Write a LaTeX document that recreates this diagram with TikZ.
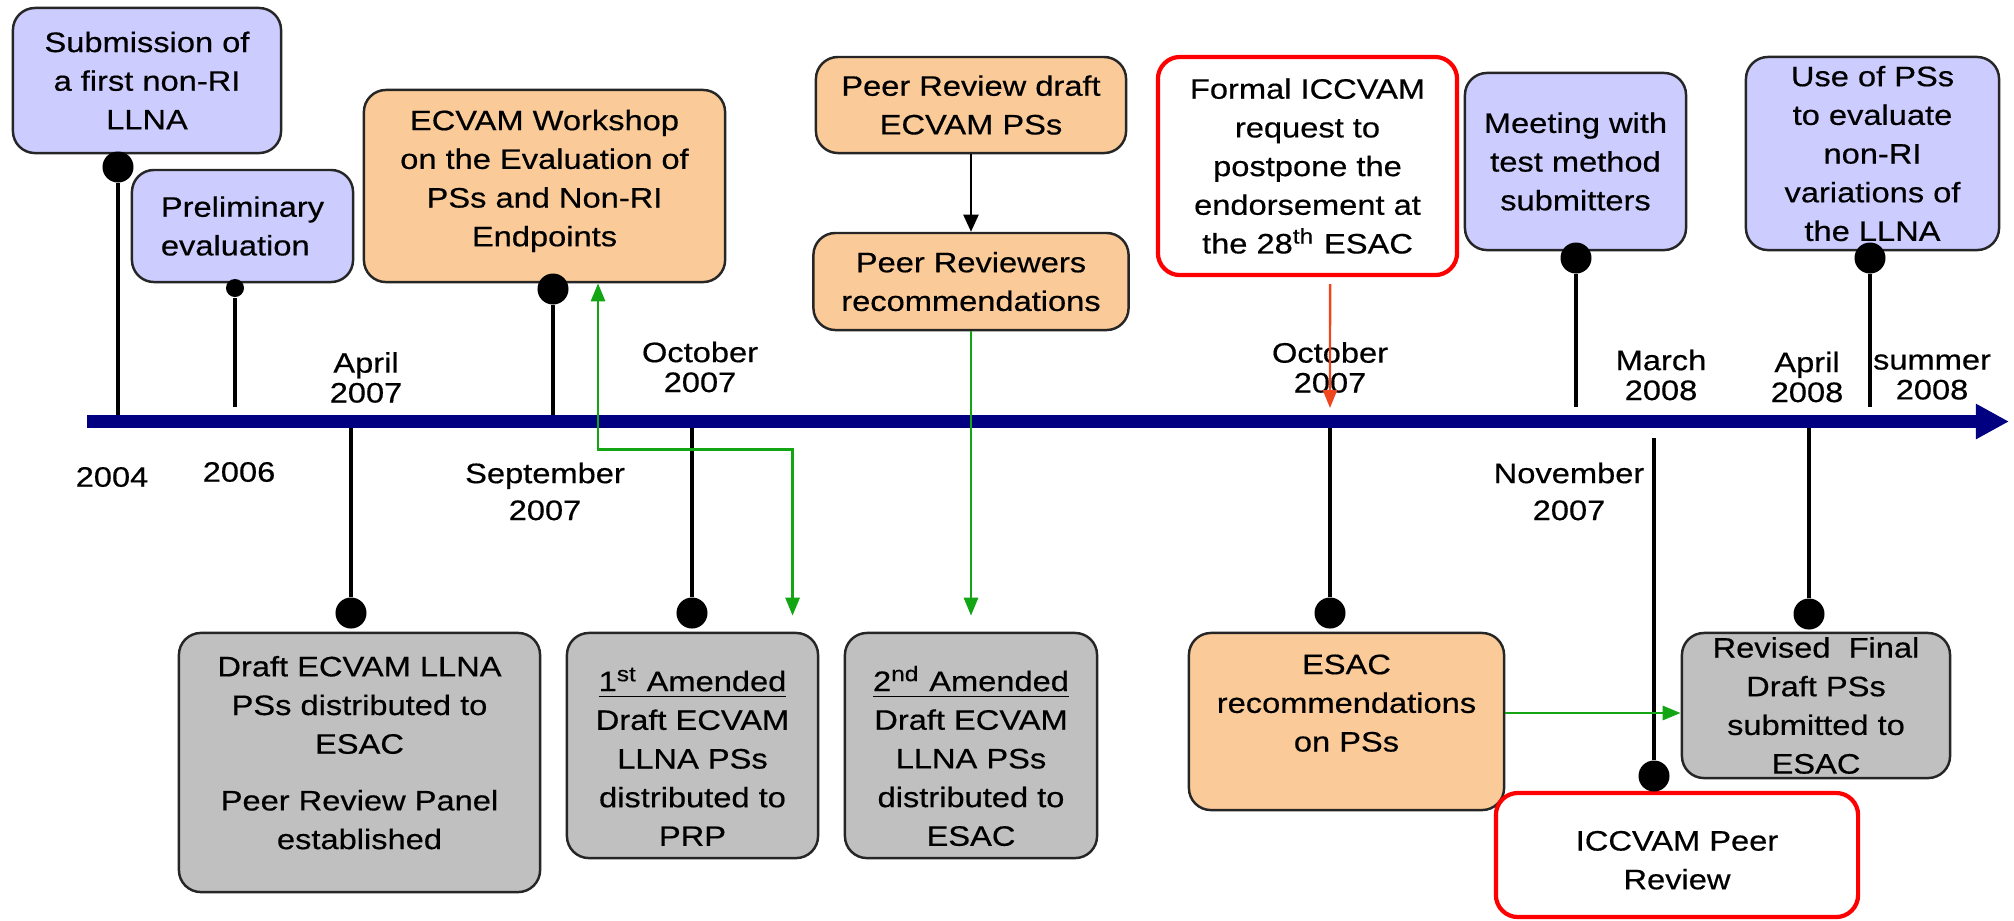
\documentclass[tikz,border=0pt]{standalone}
\usepackage{fontspec}
\setmainfont{Liberation Sans}[FakeStretch=1.16, FakeBold=0.5]
\usepackage{tikz}
\usetikzlibrary{arrows.meta}

\definecolor{lav}{RGB}{204,204,255}
\definecolor{peach}{RGB}{250,203,153}
\definecolor{boxgray}{RGB}{192,192,192}
\definecolor{navy}{RGB}{0,0,128}
\definecolor{flowgreen}{RGB}{20,165,20}
\definecolor{alarmred}{RGB}{255,0,0}
\definecolor{alarmarrow}{RGB}{240,70,30}

\begin{document}
\begin{tikzpicture}[x=0.01cm, y=-0.01cm, font=\fontsize{8}{11}\selectfont,
    >={Triangle[length=0.18cm, width=0.14cm]},
    box/.style={draw=black!85, line width=0.7pt, rounded corners=0.22cm, align=center, inner sep=0pt},
    lavbox/.style={box, fill=lav},
    peachbox/.style={box, fill=peach},
    graybox/.style={box, fill=boxgray},
    redbox/.style={box, draw=alarmred, line width=1.2pt, fill=white},
    dot/.style={circle, fill=black, inner sep=0pt, minimum size=0.31cm},
    stem/.style={line width=1pt},
    flow/.style={draw=flowgreen, line width=0.8pt},
    datetop/.style={align=center, inner sep=0pt, font=\fontsize{8}{8.5}\selectfont},
    datebot/.style={align=center, inner sep=0pt, font=\fontsize{8}{10.5}\selectfont}]
    \useasboundingbox (0,0) rectangle (2014,920);

    % events above the time line
    \node[lavbox, minimum width=2.68cm, minimum height=1.45cm] (sub) at (147,80.5) {Submission of\\a first non-RI\\LLNA};
    \node[lavbox, minimum width=2.21cm, minimum height=1.12cm, align=left] (pre) at (242.5,226) {Preliminary\\evaluation};
    \node[peachbox, minimum width=3.61cm, minimum height=1.92cm] (ws) at (544.5,186) {ECVAM Workshop\\on the Evaluation of\\PSs and Non-RI\\Endpoints\rule[-0.16cm]{0pt}{0pt}};
    \node[peachbox, minimum width=3.10cm, minimum height=0.96cm] (prd) at (971,105) {Peer Review draft\\ECVAM PSs};
    \node[peachbox, minimum width=3.15cm, minimum height=0.97cm] (prr) at (971,281.5) {Peer Reviewers\\recommendations};
    \node[redbox, minimum width=2.99cm, minimum height=2.18cm] (frm) at (1307.5,166) {Formal ICCVAM\\request to\\postpone the\\endorsement at\\the 28\textsuperscript{th} ESAC};
    \node[lavbox, minimum width=2.21cm, minimum height=1.77cm] (mtg) at (1575.5,161.5) {Meeting with\\test method\\submitters};
    \node[lavbox, minimum width=2.53cm, minimum height=1.93cm] (use) at (1872.5,153.5) {Use of PSs\\to evaluate\\non-RI\\variations of\\the LLNA};

    % events below the time line
    \node[graybox, minimum width=3.61cm, minimum height=2.59cm] (dr1) at (359.5,762.5) {Draft ECVAM LLNA\\PSs distributed to\\ESAC\\[0.18cm]Peer Review Panel\\established\rule[-0.2cm]{0pt}{0pt}};
    \node[graybox, minimum width=2.51cm, minimum height=2.25cm] (am1) at (692.5,745.5) {\rule{0pt}{0.46cm}\underline{1\textsuperscript{st} Amended}\\Draft ECVAM\\LLNA PSs\\distributed to\\PRP};
    \node[graybox, minimum width=2.52cm, minimum height=2.25cm] (am2) at (971,745.5) {\rule{0pt}{0.46cm}\underline{2\textsuperscript{nd} Amended}\\Draft ECVAM\\LLNA PSs\\distributed to\\ESAC};
    \node[peachbox, minimum width=3.15cm, minimum height=1.77cm] (esr) at (1346.5,721.5) {ESAC\\recommendations\\on PSs\rule[-0.37cm]{0pt}{0pt}};
    \node[graybox, minimum width=2.68cm, minimum height=1.45cm] (rev) at (1816,705.5) {Revised~ Final\\Draft PSs\\submitted to\\ESAC};
    \node[redbox, minimum width=3.62cm, minimum height=1.24cm] (icc) at (1677,855) {\rule{0pt}{0.3cm}ICCVAM Peer\\Review};

    % pins
    \node[dot] (sd) at (118,167) {};
    \node[dot, minimum size=0.18cm] (pd) at (235,288) {};
    \node[dot] (wd) at (553,289) {};
    \node[dot] (md) at (1576,258) {};
    \node[dot] (ud) at (1870,258) {};
    \node[dot] (d1d) at (351,613) {};
    \node[dot] (a1d) at (692,613) {};
    \node[dot] (esd) at (1330,613) {};
    \node[dot] (rvd) at (1809,614) {};
    \node[dot] (icd) at (1654,776) {};

    \coordinate (ax0) at (87,421.5);
    \coordinate (ax1) at (2009,421.5);

    \draw[stem] (sd) -- (sd |- ax0);
    \draw[stem] (pd) -- ([yshift=0.145cm]pd |- ax0);
    \draw[stem] (wd) -- (wd |- ax0);
    \draw[stem] (md) -- ([yshift=0.145cm]md |- ax0);
    \draw[stem] (ud) -- ([yshift=0.145cm]ud |- ax0);
    \draw[stem] (d1d) -- (d1d |- ax0);
    \draw[stem] (a1d) -- (a1d |- ax0);
    \draw[stem] (esd) -- (esd |- ax0);
    \draw[stem] (rvd) -- (rvd |- ax0);
    \draw[stem] (icd) -- ([yshift=-0.165cm]icd |- ax0);

    \draw[navy, line width=0.13cm, -{Triangle[length=0.33cm, width=0.33cm]}] (ax0) -- (ax1);

    % dates
    \node[datebot] (y04) at (112,477) {2004};
    \node[datebot] (y06) at (239,472) {2006};
    \node[datetop] (apr07) at (366,377.5) {April\\2007};
    \node[datebot] (sep07) at (545,491.5) {September\\2007};
    \node[datetop] (oct07a) at (700,367) {October\\2007};
    \node[datetop] (oct07b) at (1330,367.5) {October\\2007};
    \node[datebot] (nov07) at (1569,491.5) {November\\2007};
    \node[datetop] (mar08) at (1661,375) {March\\2008};
    \node[datetop] (apr08) at (1807,377) {April\\2008};
    \node[datetop] (sum08) at (1932,377) {summer\\2008};

    % links
    \draw[line width=0.6pt, -{Triangle[length=0.17cm, width=0.15cm]}] (prd) -- (prr);
    \draw[flow, <->] ([xshift=0.535cm]ws.south) -- ++(0,166) -| ([xshift=1cm, yshift=0.16cm]am1.north);
    \draw[flow, ->] (prr) -- ([yshift=0.16cm]am2.north);
    \draw[flow, ->] ([yshift=0.085cm]esr.east) coordinate (gx) -- (gx -| rev.west);
    \draw[alarmarrow, line width=0.7pt, ->] ([xshift=0.225cm, yshift=-0.07cm]frm.south) -- ([yshift=0.135cm]esd |- ax0);
\end{tikzpicture}
\end{document}
